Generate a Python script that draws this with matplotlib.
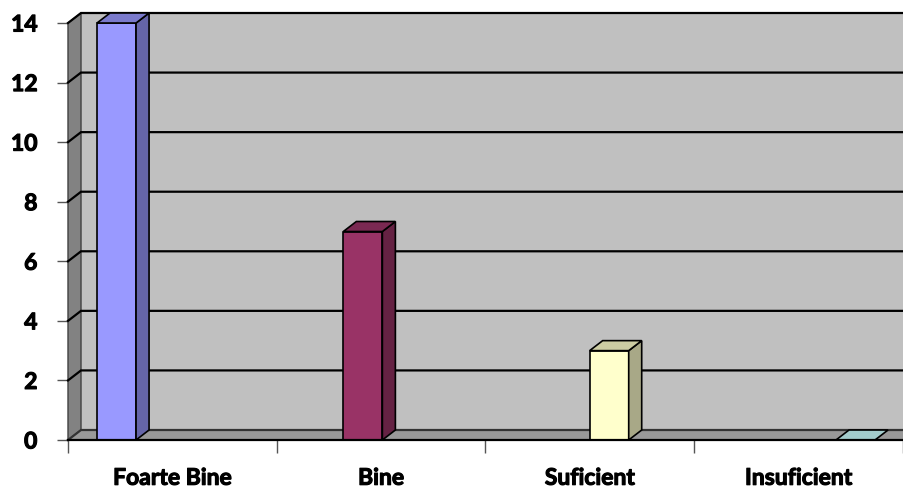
import matplotlib
matplotlib.use("Agg")
import matplotlib.pyplot as plt
import matplotlib.patheffects as pe
from matplotlib.patches import Polygon
import numpy as np

categories = ["Foarte Bine", "Bine", "Suficient", "Insuficient"]
values = [14, 7, 3, 0]
bar_colors = ["#9999ff", "#993366", "#ffffcc", "#ccffff"]
y_ticks = [0, 2, 4, 6, 8, 10, 12, 14]

plt.rcParams["font.family"] = ["Lato", "DejaVu Sans"]

W, H = 904, 491
fig = plt.figure(figsize=(W / 100, H / 100), dpi=100)
ax = fig.add_axes([68 / W, (H - 440) / H, (903 - 68) / W, (440 - 23) / H])
ax.set_xlim(0, 4)
ax.set_ylim(0, 14)

# depth offset of the 3-D box, in data units
px_x = 4 / (903 - 68)
px_y = 14 / (440 - 23)
dx = 13 * px_x
dy = 10 * px_y

def shade(c, f):
    r, g, b = matplotlib.colors.to_rgb(c)
    return (r * f, g * f, b * f)

def poly(pts, fc, ec="none", lw=0, z=1):
    p = Polygon(pts, closed=True, facecolor=fc, edgecolor=ec, linewidth=lw,
                zorder=z, clip_on=False, joinstyle="miter")
    ax.add_patch(p)

top = y_ticks[-1]
right = 4 + dx + 0.2

# walls and floor
poly([(dx, dy), (right, dy), (right, top + dy), (dx, top + dy)], "#c0c0c0", z=1)
poly([(0, 0), (0, top), (dx, top + dy), (dx, dy)], "#828282", "#404040", 1.0, z=1)
poly([(0, 0), (right, 0), (right, dy), (dx, dy)], "#999999", z=1)

# gridlines on the left wall and the back wall
for v in y_ticks:
    col = "black" if v > 0 else "#333333"
    ax.plot([0, dx, right], [v, v + dy, v + dy], color=col, lw=1.6,
            zorder=2, clip_on=False, solid_joinstyle="miter")

# 3-D columns
bar_w = 0.187
first_left = 0.139
step = 1.18
for i, (v, c) in enumerate(zip(values, bar_colors)):
    L = first_left + i * step
    R = L + bar_w
    if v > 0:
        poly([(L, 0), (R, 0), (R, v), (L, v)], c, "black", 1.2, z=3)
        poly([(R, 0), (R + dx, dy), (R + dx, v + dy), (R, v)],
             shade(c, 0.66), "black", 1.2, z=3)
    poly([(L, v), (R, v), (R + dx, v + dy), (L + dx, v + dy)],
         shade(c, 0.8), "black", 1.2, z=4)

# axes lines
for s in ["top", "right", "left"]:
    ax.spines[s].set_visible(False)
ax.spines["bottom"].set_color("black")
ax.spines["bottom"].set_linewidth(1.6)
ax.spines["bottom"].set_zorder(5)
ax.set_facecolor("none")

label_font = dict(fontsize=16.5, fontweight="bold",
                  path_effects=[pe.withStroke(linewidth=0.8, foreground="black")])

ax.set_yticks(y_ticks)
ax.set_yticklabels([str(t) for t in y_ticks], **label_font)
ax.tick_params(axis="y", length=8, width=1, color="#555555", pad=14)

ax.set_xticks(np.arange(0, 5))
ax.set_xticklabels([])
ax.set_xticks(np.arange(4) + 0.5, minor=True)
ax.set_xticklabels(categories, minor=True, **label_font)
ax.tick_params(axis="x", which="major", length=9, width=1, color="#555555")
ax.tick_params(axis="x", which="minor", length=0, pad=20)

fig.savefig("out.png", dpi=100, facecolor="white")
